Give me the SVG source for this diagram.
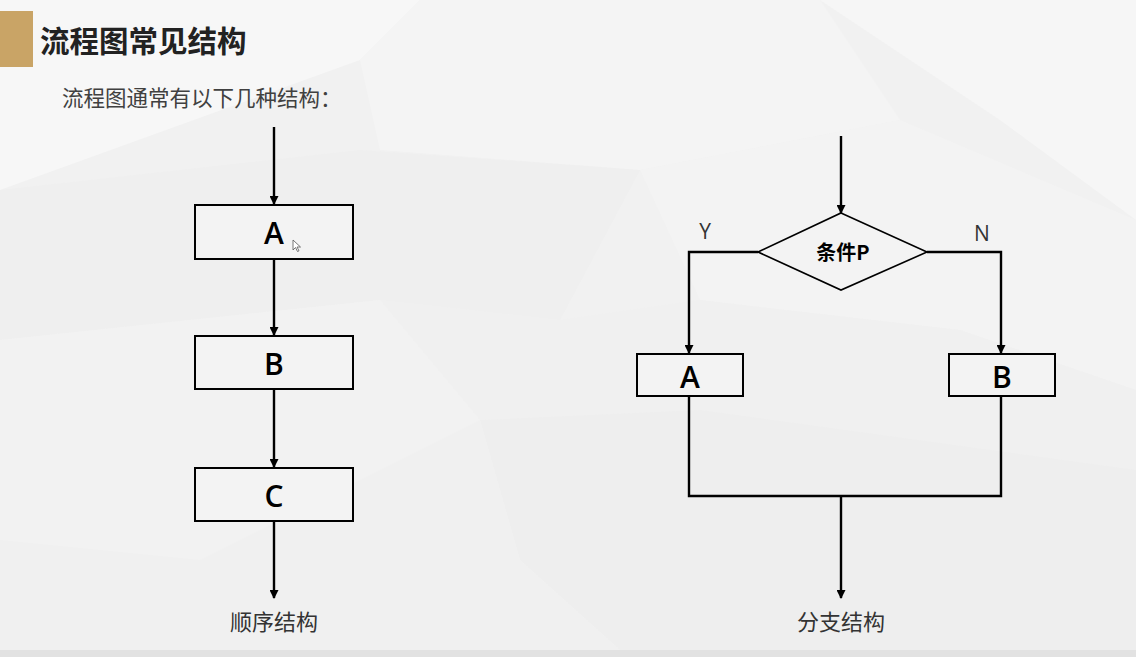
<svg xmlns="http://www.w3.org/2000/svg" width="1136" height="657" viewBox="0 0 1136 657">
<defs>
<marker id="arr" viewBox="0 0 10 10" refX="9" refY="5" markerWidth="10" markerHeight="9" markerUnits="userSpaceOnUse" orient="auto">
<path d="M0,0 L10,5 L0,10 z" fill="#000"/>
</marker>
<style>
.ln{fill:none;stroke:#000;stroke-width:2.4}
.bx{fill:#f3f3f3;stroke:#000;stroke-width:2}
.lt{font-family:"Open Sans","Noto Sans",sans-serif;font-weight:600;font-size:30px;fill:#000;text-anchor:middle}
.cj{font-family:"Noto Sans CJK SC",sans-serif;fill:#333}
.cap{font-size:22px;text-anchor:middle}
</style>
</defs>
<rect width="1136" height="657" fill="#f1f1f1"/>
<g id="background">
<polygon points="0,0 420,0 360,60 0,190" fill="#f7f7f7"/>
<polygon points="360,60 420,0 820,0 900,120 640,170 380,150" fill="#f4f4f4"/>
<polygon points="820,0 1136,0 1136,220 1000,120" fill="#f6f6f6"/>
<polygon points="0,190 360,150 640,170 560,320 380,300 0,340" fill="#efefef"/>
<polygon points="640,170 900,120 1136,220 1136,390 960,330 700,300" fill="#f3f3f3"/>
<polygon points="0,340 380,300 480,420 200,560 0,540" fill="#f2f2f2"/>
<polygon points="380,300 560,320 700,300 960,330 1136,390 1136,470 700,410 480,420" fill="#f0f0f0"/>
<polygon points="480,420 700,410 1136,470 1136,650 620,650 520,560" fill="#eeeeee"/>
<polygon points="0,540 200,560 480,420 520,560 620,650 0,650" fill="#f0f0f0"/>
<rect x="0" y="650" width="1136" height="7" fill="#e2e2e2"/>
</g>
<g id="header">
<rect x="0" y="11" width="33" height="56" fill="#c9a466"/>
<text x="40" y="52" class="cj" style="font-size:29.5px;font-weight:700;fill:#222">流程图常见结构</text>
<text x="62" y="106" class="cj" style="font-size:21.5px;fill:#404040">流程图通常有以下几种结构：</text>
</g>
<g id="connectors">
<line class="ln" x1="274" y1="127" x2="274" y2="204" marker-end="url(#arr)"/>
<line class="ln" x1="274" y1="259" x2="274" y2="335" marker-end="url(#arr)"/>
<line class="ln" x1="274" y1="389" x2="274" y2="467" marker-end="url(#arr)"/>
<line class="ln" x1="274" y1="521" x2="274" y2="598" marker-end="url(#arr)"/>
<line class="ln" x1="841" y1="136" x2="841" y2="213" marker-end="url(#arr)"/>
<polyline class="ln" points="758,252 689,252 689,353" marker-end="url(#arr)"/>
<polyline class="ln" points="927,252 1001,252 1001,353" marker-end="url(#arr)"/>
<polyline class="ln" points="689,396 689,496 1001,496 1001,396"/>
<line class="ln" x1="841" y1="496" x2="841" y2="598" marker-end="url(#arr)"/>
</g>
<g id="seqA">
<rect class="bx" x="195" y="205" width="158" height="54"/>
<text class="lt" x="274" y="244">A</text>
</g>
<g id="seqB">
<rect class="bx" x="195" y="336" width="158" height="53"/>
<text class="lt" x="274" y="375">B</text>
</g>
<g id="seqC">
<rect class="bx" x="195" y="468" width="158" height="53"/>
<text class="lt" x="274" y="507">C</text>
</g>
<g id="seqLabel">
<text class="cj cap" x="274" y="630">顺序结构</text>
</g>
<g id="cond">
<polygon points="841,213 927,252 841,290 758,252" fill="#f3f3f3" stroke="#000" stroke-width="1.6"/>
<text x="843" y="260" class="cj" style="font-size:20px;font-weight:700;fill:#000;text-anchor:middle">条件P</text>
</g>
<g id="labelY"><text x="705" y="239" style="font-family:'Open Sans',sans-serif;font-size:21px;fill:#333;text-anchor:middle">Y</text></g>
<g id="labelN"><text x="982" y="241" style="font-family:'Open Sans',sans-serif;font-size:21px;fill:#333;text-anchor:middle">N</text></g>
<g id="brA">
<rect class="bx" x="637" y="354" width="106" height="42"/>
<text class="lt" x="690" y="388">A</text>
</g>
<g id="brB">
<rect class="bx" x="949" y="354" width="106" height="42"/>
<text class="lt" x="1002" y="388">B</text>
</g>
<g id="brLabel">
<text class="cj cap" x="841" y="630">分支结构</text>
</g>
<g id="cursor">
<polygon points="293,240 293,250 295.5,247.5 297.5,251.5 299,250.8 297,247 300.5,247" fill="#fff" stroke="#555" stroke-width="0.8"/>
</g>
</svg>
